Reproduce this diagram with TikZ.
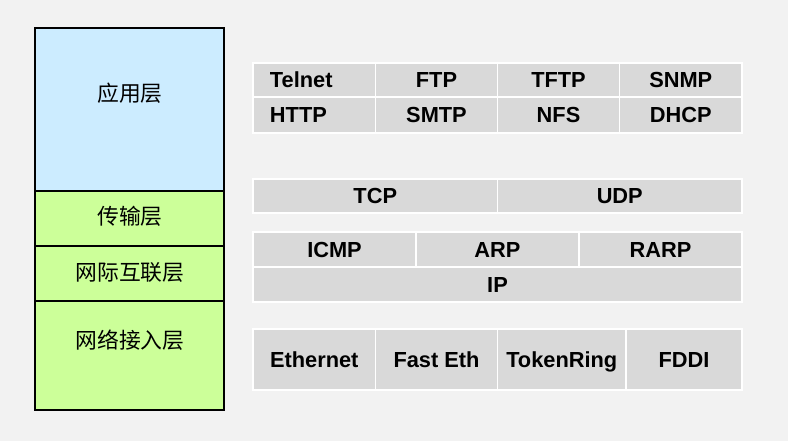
\documentclass[tikz,border=0pt]{standalone}
\usepackage{fontspec}
\setmainfont{Liberation Sans}
\newfontfamily\cjk{Noto Sans CJK SC}
\definecolor{bgcol}{HTML}{F2F2F2}
\definecolor{appblue}{HTML}{CCECFF}
\definecolor{layergreen}{HTML}{CCFF99}
\definecolor{cellgray}{HTML}{D9D9D9}
\tikzset{
  layer/.style={draw=black, line width=1.3pt},
  cell/.style={fill=cellgray, draw=white, line width=1.2pt},
  proto/.style={font=\fontsize{15.5}{18}\selectfont\bfseries, text height=11pt, text depth=0pt},
  layername/.style={font=\fontsize{15.5}{18}\selectfont\cjk}
}
\begin{document}
\begin{tikzpicture}[x=0.025cm,y=-0.025cm]
\fill[bgcol] (0,0) rectangle (788,441);
\useasboundingbox (0,0) rectangle (788,441);

% layer stack
\draw[layer, fill=appblue] (35,28) rectangle (224,191);
\draw[layer, fill=layergreen] (35,191) rectangle (224,246);
\draw[layer, fill=layergreen] (35,246) rectangle (224,301);
\draw[layer, fill=layergreen] (35,301) rectangle (224,410);
\draw[layer, line width=1.8pt] (35,28) rectangle (224,410);

\node[layername] (app) at (130,93) {应用层};
\node[layername] (trans) at (130,216) {传输层};
\node[layername] (inet) at (130,272) {网际互联层};
\node[layername] (netacc) at (130,340) {网络接入层};

% application protocols
\draw[cell] (253,63) rectangle (375.5,97);
\node[proto, anchor=west] (telnet) at (265,80) {Telnet};
\draw[cell] (375.5,63) rectangle (497.5,97) node[proto, pos=.5] (ftp) {FTP};
\draw[cell] (497.5,63) rectangle (619.5,97) node[proto, pos=.5] (tftp) {TFTP};
\draw[cell] (619.5,63) rectangle (742,97) node[proto, pos=.5] (snmp) {SNMP};

\draw[cell] (253,97) rectangle (375.5,133);
\node[proto, anchor=west] (http) at (265,115) {HTTP};
\draw[cell] (375.5,97) rectangle (497.5,133) node[proto, pos=.5] (smtp) {SMTP};
\draw[cell] (497.5,97) rectangle (619.5,133) node[proto, pos=.5] (nfs) {NFS};
\draw[cell] (619.5,97) rectangle (742,133) node[proto, pos=.5] (dhcp) {DHCP};

% transport protocols
\draw[cell] (253,179) rectangle (497.5,213) node[proto, pos=.5] (tcp) {TCP};
\draw[cell] (497.5,179) rectangle (742,213) node[proto, pos=.5] (udp) {UDP};

% internet protocols
\draw[cell] (253,232) rectangle (416,267) node[proto, pos=.5] (icmp) {ICMP};
\draw[cell] (416,232) rectangle (579,267) node[proto, pos=.5] (arp) {ARP};
\draw[cell] (579,232) rectangle (742,267) node[proto, pos=.5] (rarp) {RARP};
\draw[cell] (253,267) rectangle (742,302) node[proto, pos=.5] (ip) {IP};

% network access
\draw[cell] (253,329) rectangle (375.5,390) node[proto, pos=.5] (eth) {Ethernet};
\draw[cell] (375.5,329) rectangle (497.5,390) node[proto, pos=.5] (feth) {Fast Eth};
\draw[cell] (497.5,329) rectangle (626,390) node[proto, pos=.5] (token) {TokenRing};
\draw[cell] (626,329) rectangle (742,390) node[proto, pos=.5] (fddi) {FDDI};

\end{tikzpicture}
\end{document}
